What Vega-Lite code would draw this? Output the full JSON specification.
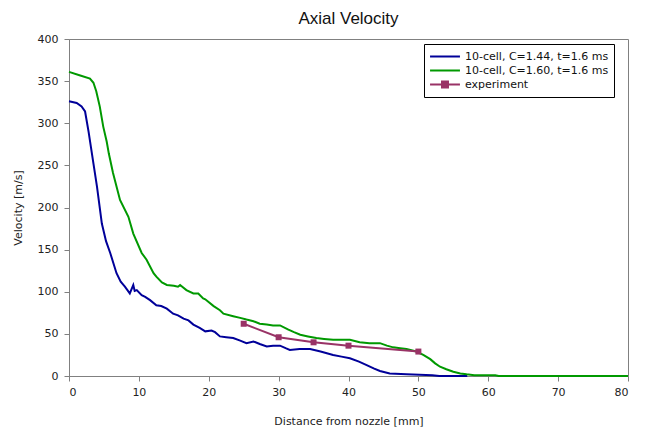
{
  "$schema": "https://vega.github.io/schema/vega-lite/v6.json",
  "width": 559,
  "height": 337,
  "autosize": {"type": "none"},
  "padding": {"left": 69, "top": 39, "right": 29, "bottom": 60},
  "background": "white",
  "title": {"text": "Axial Velocity", "font": "Liberation Sans", "fontSize": 17, "fontWeight": "normal", "color": "#111", "anchor": "middle", "frame": "group", "offset": 5},
  "config": {
    "view": {"stroke": "#808080", "strokeWidth": 1},
    "axis": {"grid": false, "domainColor": "#808080", "tickColor": "#808080", "tickSize": 5, "labelFont": "DejaVu Sans", "labelFontSize": 11, "labelColor": "#222", "titleFont": "DejaVu Sans", "titleFontSize": 11, "titleFontWeight": "normal", "titleColor": "#222"}
  },
  "datasets": {
    "sim": [
      {"d": 0, "v": 326, "s": "10-cell, C=1.44, t=1.6 ms"},
      {"d": 1.1, "v": 324, "s": "10-cell, C=1.44, t=1.6 ms"},
      {"d": 1.8, "v": 320, "s": "10-cell, C=1.44, t=1.6 ms"},
      {"d": 2.3, "v": 314, "s": "10-cell, C=1.44, t=1.6 ms"},
      {"d": 2.8, "v": 290, "s": "10-cell, C=1.44, t=1.6 ms"},
      {"d": 3.5, "v": 252, "s": "10-cell, C=1.44, t=1.6 ms"},
      {"d": 4.0, "v": 225, "s": "10-cell, C=1.44, t=1.6 ms"},
      {"d": 4.7, "v": 181, "s": "10-cell, C=1.44, t=1.6 ms"},
      {"d": 5.3, "v": 160, "s": "10-cell, C=1.44, t=1.6 ms"},
      {"d": 5.9, "v": 146, "s": "10-cell, C=1.44, t=1.6 ms"},
      {"d": 6.8, "v": 122, "s": "10-cell, C=1.44, t=1.6 ms"},
      {"d": 7.4, "v": 112, "s": "10-cell, C=1.44, t=1.6 ms"},
      {"d": 8.0, "v": 106, "s": "10-cell, C=1.44, t=1.6 ms"},
      {"d": 8.7, "v": 98, "s": "10-cell, C=1.44, t=1.6 ms"},
      {"d": 9.0, "v": 104, "s": "10-cell, C=1.44, t=1.6 ms"},
      {"d": 9.2, "v": 108, "s": "10-cell, C=1.44, t=1.6 ms"},
      {"d": 9.4, "v": 101, "s": "10-cell, C=1.44, t=1.6 ms"},
      {"d": 9.7, "v": 102, "s": "10-cell, C=1.44, t=1.6 ms"},
      {"d": 10.4, "v": 96, "s": "10-cell, C=1.44, t=1.6 ms"},
      {"d": 10.9, "v": 94, "s": "10-cell, C=1.44, t=1.6 ms"},
      {"d": 11.6, "v": 90, "s": "10-cell, C=1.44, t=1.6 ms"},
      {"d": 12.5, "v": 84, "s": "10-cell, C=1.44, t=1.6 ms"},
      {"d": 13.2, "v": 83, "s": "10-cell, C=1.44, t=1.6 ms"},
      {"d": 14.0, "v": 80, "s": "10-cell, C=1.44, t=1.6 ms"},
      {"d": 14.9, "v": 74, "s": "10-cell, C=1.44, t=1.6 ms"},
      {"d": 15.6, "v": 72, "s": "10-cell, C=1.44, t=1.6 ms"},
      {"d": 16.4, "v": 68, "s": "10-cell, C=1.44, t=1.6 ms"},
      {"d": 17.1, "v": 66, "s": "10-cell, C=1.44, t=1.6 ms"},
      {"d": 17.8, "v": 61, "s": "10-cell, C=1.44, t=1.6 ms"},
      {"d": 18.7, "v": 57, "s": "10-cell, C=1.44, t=1.6 ms"},
      {"d": 19.5, "v": 53, "s": "10-cell, C=1.44, t=1.6 ms"},
      {"d": 20.4, "v": 54, "s": "10-cell, C=1.44, t=1.6 ms"},
      {"d": 20.9, "v": 52, "s": "10-cell, C=1.44, t=1.6 ms"},
      {"d": 21.6, "v": 47, "s": "10-cell, C=1.44, t=1.6 ms"},
      {"d": 22.5, "v": 46, "s": "10-cell, C=1.44, t=1.6 ms"},
      {"d": 23.5, "v": 45, "s": "10-cell, C=1.44, t=1.6 ms"},
      {"d": 24.5, "v": 42, "s": "10-cell, C=1.44, t=1.6 ms"},
      {"d": 25.4, "v": 39, "s": "10-cell, C=1.44, t=1.6 ms"},
      {"d": 26.4, "v": 41, "s": "10-cell, C=1.44, t=1.6 ms"},
      {"d": 27.3, "v": 38, "s": "10-cell, C=1.44, t=1.6 ms"},
      {"d": 28.3, "v": 35, "s": "10-cell, C=1.44, t=1.6 ms"},
      {"d": 29.2, "v": 36, "s": "10-cell, C=1.44, t=1.6 ms"},
      {"d": 30.2, "v": 36, "s": "10-cell, C=1.44, t=1.6 ms"},
      {"d": 31.0, "v": 33, "s": "10-cell, C=1.44, t=1.6 ms"},
      {"d": 31.6, "v": 31, "s": "10-cell, C=1.44, t=1.6 ms"},
      {"d": 33.0, "v": 32, "s": "10-cell, C=1.44, t=1.6 ms"},
      {"d": 34.5, "v": 32, "s": "10-cell, C=1.44, t=1.6 ms"},
      {"d": 36.0, "v": 29, "s": "10-cell, C=1.44, t=1.6 ms"},
      {"d": 37.8, "v": 25, "s": "10-cell, C=1.44, t=1.6 ms"},
      {"d": 39.0, "v": 23, "s": "10-cell, C=1.44, t=1.6 ms"},
      {"d": 40.2, "v": 21, "s": "10-cell, C=1.44, t=1.6 ms"},
      {"d": 41.5, "v": 17, "s": "10-cell, C=1.44, t=1.6 ms"},
      {"d": 42.6, "v": 13, "s": "10-cell, C=1.44, t=1.6 ms"},
      {"d": 43.6, "v": 9, "s": "10-cell, C=1.44, t=1.6 ms"},
      {"d": 44.5, "v": 6, "s": "10-cell, C=1.44, t=1.6 ms"},
      {"d": 45.9, "v": 3, "s": "10-cell, C=1.44, t=1.6 ms"},
      {"d": 48.3, "v": 2, "s": "10-cell, C=1.44, t=1.6 ms"},
      {"d": 52.0, "v": 1, "s": "10-cell, C=1.44, t=1.6 ms"},
      {"d": 53.0, "v": 0, "s": "10-cell, C=1.44, t=1.6 ms"},
      {"d": 57.0, "v": 0, "s": "10-cell, C=1.44, t=1.6 ms"},
      {"d": 0, "v": 361, "s": "10-cell, C=1.60, t=1.6 ms"},
      {"d": 1.5, "v": 357, "s": "10-cell, C=1.60, t=1.6 ms"},
      {"d": 3.0, "v": 353, "s": "10-cell, C=1.60, t=1.6 ms"},
      {"d": 3.5, "v": 348, "s": "10-cell, C=1.60, t=1.6 ms"},
      {"d": 3.9, "v": 338, "s": "10-cell, C=1.60, t=1.6 ms"},
      {"d": 4.4, "v": 320, "s": "10-cell, C=1.60, t=1.6 ms"},
      {"d": 4.9, "v": 296, "s": "10-cell, C=1.60, t=1.6 ms"},
      {"d": 5.4, "v": 278, "s": "10-cell, C=1.60, t=1.6 ms"},
      {"d": 5.7, "v": 264, "s": "10-cell, C=1.60, t=1.6 ms"},
      {"d": 6.3, "v": 241, "s": "10-cell, C=1.60, t=1.6 ms"},
      {"d": 7.3, "v": 209, "s": "10-cell, C=1.60, t=1.6 ms"},
      {"d": 8.5, "v": 189, "s": "10-cell, C=1.60, t=1.6 ms"},
      {"d": 9.2, "v": 169, "s": "10-cell, C=1.60, t=1.6 ms"},
      {"d": 10.4, "v": 146, "s": "10-cell, C=1.60, t=1.6 ms"},
      {"d": 11.1, "v": 138, "s": "10-cell, C=1.60, t=1.6 ms"},
      {"d": 12.1, "v": 122, "s": "10-cell, C=1.60, t=1.6 ms"},
      {"d": 12.5, "v": 118, "s": "10-cell, C=1.60, t=1.6 ms"},
      {"d": 13.3, "v": 111, "s": "10-cell, C=1.60, t=1.6 ms"},
      {"d": 14.0, "v": 108, "s": "10-cell, C=1.60, t=1.6 ms"},
      {"d": 15.0, "v": 107, "s": "10-cell, C=1.60, t=1.6 ms"},
      {"d": 15.6, "v": 106, "s": "10-cell, C=1.60, t=1.6 ms"},
      {"d": 15.9, "v": 108, "s": "10-cell, C=1.60, t=1.6 ms"},
      {"d": 16.8, "v": 102, "s": "10-cell, C=1.60, t=1.6 ms"},
      {"d": 17.8, "v": 98, "s": "10-cell, C=1.60, t=1.6 ms"},
      {"d": 18.5, "v": 98, "s": "10-cell, C=1.60, t=1.6 ms"},
      {"d": 19.2, "v": 92, "s": "10-cell, C=1.60, t=1.6 ms"},
      {"d": 19.5, "v": 91, "s": "10-cell, C=1.60, t=1.6 ms"},
      {"d": 20.7, "v": 83, "s": "10-cell, C=1.60, t=1.6 ms"},
      {"d": 21.6, "v": 78, "s": "10-cell, C=1.60, t=1.6 ms"},
      {"d": 22.1, "v": 74, "s": "10-cell, C=1.60, t=1.6 ms"},
      {"d": 23.5, "v": 71, "s": "10-cell, C=1.60, t=1.6 ms"},
      {"d": 24.5, "v": 69, "s": "10-cell, C=1.60, t=1.6 ms"},
      {"d": 25.4, "v": 67, "s": "10-cell, C=1.60, t=1.6 ms"},
      {"d": 26.4, "v": 65, "s": "10-cell, C=1.60, t=1.6 ms"},
      {"d": 27.3, "v": 62, "s": "10-cell, C=1.60, t=1.6 ms"},
      {"d": 28.3, "v": 61, "s": "10-cell, C=1.60, t=1.6 ms"},
      {"d": 29.2, "v": 60, "s": "10-cell, C=1.60, t=1.6 ms"},
      {"d": 30.2, "v": 60, "s": "10-cell, C=1.60, t=1.6 ms"},
      {"d": 31.4, "v": 55, "s": "10-cell, C=1.60, t=1.6 ms"},
      {"d": 32.2, "v": 52, "s": "10-cell, C=1.60, t=1.6 ms"},
      {"d": 33.1, "v": 49, "s": "10-cell, C=1.60, t=1.6 ms"},
      {"d": 34.2, "v": 47, "s": "10-cell, C=1.60, t=1.6 ms"},
      {"d": 35.4, "v": 45, "s": "10-cell, C=1.60, t=1.6 ms"},
      {"d": 36.5, "v": 44, "s": "10-cell, C=1.60, t=1.6 ms"},
      {"d": 37.8, "v": 43, "s": "10-cell, C=1.60, t=1.6 ms"},
      {"d": 39.0, "v": 43, "s": "10-cell, C=1.60, t=1.6 ms"},
      {"d": 40.2, "v": 43, "s": "10-cell, C=1.60, t=1.6 ms"},
      {"d": 41.6, "v": 40, "s": "10-cell, C=1.60, t=1.6 ms"},
      {"d": 43.0, "v": 39, "s": "10-cell, C=1.60, t=1.6 ms"},
      {"d": 44.5, "v": 39, "s": "10-cell, C=1.60, t=1.6 ms"},
      {"d": 45.5, "v": 36, "s": "10-cell, C=1.60, t=1.6 ms"},
      {"d": 46.4, "v": 34, "s": "10-cell, C=1.60, t=1.6 ms"},
      {"d": 47.4, "v": 33, "s": "10-cell, C=1.60, t=1.6 ms"},
      {"d": 48.3, "v": 32, "s": "10-cell, C=1.60, t=1.6 ms"},
      {"d": 49.7, "v": 29, "s": "10-cell, C=1.60, t=1.6 ms"},
      {"d": 50.7, "v": 25, "s": "10-cell, C=1.60, t=1.6 ms"},
      {"d": 51.7, "v": 20, "s": "10-cell, C=1.60, t=1.6 ms"},
      {"d": 52.4, "v": 15, "s": "10-cell, C=1.60, t=1.6 ms"},
      {"d": 53.1, "v": 11, "s": "10-cell, C=1.60, t=1.6 ms"},
      {"d": 54.0, "v": 8, "s": "10-cell, C=1.60, t=1.6 ms"},
      {"d": 55.0, "v": 5, "s": "10-cell, C=1.60, t=1.6 ms"},
      {"d": 56.0, "v": 3, "s": "10-cell, C=1.60, t=1.6 ms"},
      {"d": 56.9, "v": 2, "s": "10-cell, C=1.60, t=1.6 ms"},
      {"d": 58.0, "v": 1, "s": "10-cell, C=1.60, t=1.6 ms"},
      {"d": 61.0, "v": 1, "s": "10-cell, C=1.60, t=1.6 ms"},
      {"d": 61.5, "v": 0, "s": "10-cell, C=1.60, t=1.6 ms"},
      {"d": 80.0, "v": 0, "s": "10-cell, C=1.60, t=1.6 ms"},
      {"d": 25, "v": 62, "s": "experiment"},
      {"d": 30, "v": 46, "s": "experiment"},
      {"d": 35, "v": 40, "s": "experiment"},
      {"d": 40, "v": 36, "s": "experiment"},
      {"d": 50, "v": 29, "s": "experiment"}
    ]
  },
  "data": {"name": "sim"},
  "encoding": {
    "x": {"field": "d", "type": "quantitative", "scale": {"domain": [0, 80], "nice": false, "zero": false}, "axis": {"values": [0, 10, 20, 30, 40, 50, 60, 70, 80], "title": "Distance from nozzle [mm]", "labelPadding": 5, "titlePadding": 18}},
    "y": {"field": "v", "type": "quantitative", "scale": {"domain": [0, 400], "nice": false}, "axis": {"values": [0, 50, 100, 150, 200, 250, 300, 350, 400], "title": "Velocity [m/s]", "labelPadding": 6, "titlePadding": 14}}
  },
  "layer": [
    {
      "mark": {"type": "line", "strokeWidth": 2, "interpolate": "linear"},
      "encoding": {
        "color": {
          "field": "s", "type": "nominal",
          "scale": {"domain": ["10-cell, C=1.44, t=1.6 ms", "10-cell, C=1.60, t=1.6 ms", "experiment"], "range": ["#000099", "#009900", "#993366"]},
          "sort": null,
          "legend": {
            "title": null, "orient": "none", "legendX": 355, "legendY": 5,
            "fillColor": "white", "strokeColor": "#000", "padding": 5,
            "labelFont": "DejaVu Sans", "labelFontSize": 11, "labelColor": "#111",
            "symbolSize": 169, "symbolStrokeWidth": 2, "symbolType": "M-2.3,0H2.3", "symbolOffset": 8.5, "labelOffset": 12.5, "rowPadding": 1,
            "encode": {"symbols": {"update": {
              "shape": {"signal": "datum.value === 'experiment' ? 'M-2.3,0H2.3M-0.46,-0.46H0.46V0.46H-0.46Z' : 'M-2.3,0H2.3'"},
              "fill": {"scale": "color", "field": "value"},
              "stroke": {"scale": "color", "field": "value"},
              "strokeWidth": {"value": 2}
            }}}
          }
        },
        "order": {"field": "d", "type": "quantitative"}
      }
    },
    {
      "transform": [{"filter": "datum.s === 'experiment'"}],
      "mark": {"type": "point", "shape": "square", "filled": true, "size": 36, "opacity": 1, "color": "#993366"}
    }
  ]
}
